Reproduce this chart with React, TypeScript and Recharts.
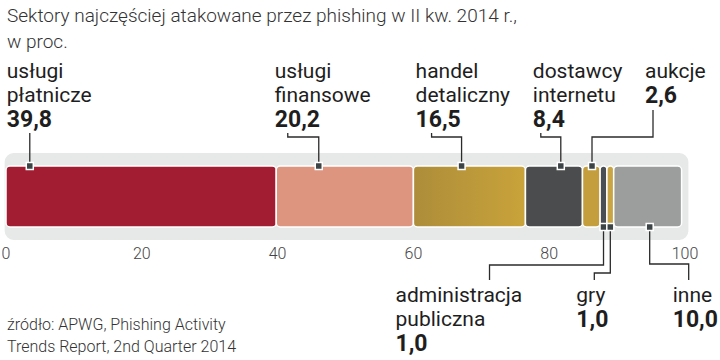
import React from "react";
import { BarChart, Bar, XAxis, YAxis, CartesianGrid, ReferenceArea, LabelList } from "recharts";

const title = ["Sektory najczęściej atakowane przez phishing w II kw. 2014 r.,", "w proc."];
const source = ["źródło: APWG, Phishing Activity", "Trends Report, 2nd Quarter 2014"];

const sectors = [
  "usługi\npłatnicze",
  "usługi\nfinansowe",
  "handel\ndetaliczny",
  "dostawcy\ninternetu",
  "aukcje",
  "administracja\npubliczna",
  "gry",
  "inne",
];
const shares = [39.8, 20.2, 16.5, 8.4, 2.6, 1.0, 1.0, 10.0];
const ticks = [0, 20, 40, 60, 80, 100];
const gridValues = [20, 40, 60, 80];

const colors = ["#A21D31", "#DE957F", "url(#goldGrad)", "#4A4C4D", "#C49E3C", "#4A4F55", "#C9A545", "#9C9D9D"];

// where each annotation sits, relative to its marker
const callouts = [
  { side: "top", frac: 0.088, textDx: -23, elbowDx: 0, endY: 133 },
  { side: "top", frac: 0.31, textDx: -44, elbowDx: -31, endY: 133 },
  { side: "top", frac: 0.43, textDx: -46, elbowDx: -30, endY: 133 },
  { side: "top", frac: 0.62, textDx: -28, elbowDx: -20, endY: 133 },
  { side: "top", frac: 0.54, textDx: 53, elbowDx: 61, endY: 110 },
  { side: "bottom", frac: 0.5, textDx: -208, elbowDx: -114, endY: 280, elbowY: 265 },
  { side: "bottom", frac: 0.5, textDx: -34, elbowDx: -16, endY: 280, elbowY: 273 },
  { side: "bottom", frac: 0.53, textDx: 23, elbowDx: 39, endY: 280, elbowY: 264 },
];

const row: Record<string, string | number> = { name: "sektory" };
shares.forEach((v, i) => (row["s" + i] = v));
const data = [row];

const fmt = (v: number) => v.toFixed(1).replace(".", ",");

function Callout(props: any, i: number) {
  const { x, y, width, height } = props;
  const c = callouts[i];
  const lines = sectors[i].split("\n");
  const mx = x + width * c.frac;
  const top = c.side === "top";
  const my = top ? y : y + height;
  const elbowY = top ? 137 : (c.elbowY as number);
  const ex = mx + c.elbowDx;
  const path =
    c.elbowDx === 0
      ? `M${mx},${my} L${mx},${c.endY}`
      : `M${mx},${my} L${mx},${elbowY} L${ex},${elbowY} L${ex},${c.endY}`;
  const tx = mx + c.textDx;
  const firstBase = top ? 78 : 302;
  const step = top ? 24 : 23.5;
  const valBase = firstBase + step * (lines.length - 1) + 25;
  return (
    <g key={"c" + i}>
      <path d={path} stroke="#2b2b2b" strokeWidth={1.3} fill="none" />
      <rect x={mx - 3.5} y={my - 3.5} width={7} height={7} fill="#3d4446" stroke="#fff" strokeWidth={1.5} />
      <text x={tx} y={firstBase} fontFamily="Roboto, sans-serif" fontSize={21} fill="#1e1e1e">
        {lines.map((l, k) => (
          <tspan key={k} x={tx} y={firstBase + step * k}>
            {l}
          </tspan>
        ))}
      </text>
      <text x={tx} y={valBase} fontFamily="Roboto, sans-serif" fontSize={23} fontWeight={700} fill="#1e1e1e">
        {fmt(shares[i])}
      </text>
    </g>
  );
}

export default function App() {
  return (
    <div style={{ position: "absolute", left: 0, top: 0, width: 720, height: 360, background: "#fff" }}>
      <svg width={720} height={60} style={{ position: "absolute", left: 0, top: 0 }}>
        <text x={7} y={22} fontFamily="Roboto, sans-serif" fontWeight={300} fontSize={19} fill="#333">
          {title[0]}
        </text>
        <text x={7} y={48} fontFamily="Roboto, sans-serif" fontWeight={300} fontSize={19} fill="#333">
          {title[1]}
        </text>
      </svg>
      <div style={{ position: "absolute", left: 0, top: 0 }}>
        <BarChart
          width={720}
          height={360}
          data={data}
          layout="vertical"
          margin={{ top: 153, right: 35, left: 6, bottom: 90 }}
          barSize={61}
          style={{ overflow: "visible" }}
        >
          <defs>
            <linearGradient id="goldGrad" x1="0" y1="0" x2="1" y2="0">
              <stop offset="0%" stopColor="#AD8D3A" />
              <stop offset="100%" stopColor="#C9A33A" />
            </linearGradient>
          </defs>
          <ReferenceArea
            x1={-0.2}
            x2={100.5}
            ifOverflow="visible"
            fill="#e7e8e8"
            fillOpacity={1}
            stroke="none"
            radius={9}
          />
          <CartesianGrid horizontal={false} vertical verticalValues={gridValues} stroke="#c9caca" strokeWidth={1} />
          <XAxis
            type="number"
            domain={[0, 100]}
            ticks={ticks}
            interval={0}
            axisLine={false}
            tickLine={false}
            tick={{ fontSize: 16, fill: "#444", fontFamily: "Roboto, sans-serif", fontWeight: 300 }}
          />
          <YAxis type="category" dataKey="name" hide />
          {shares.map((_, i) => (
            <Bar
              key={i}
              dataKey={"s" + i}
              stackId="a"
              fill={colors[i]}
              stroke="#fff"
              strokeWidth={1.5}
              radius={4}
              isAnimationActive={false}
            >
              <LabelList dataKey={"s" + i} content={(p: any) => Callout(p, i)} />
            </Bar>
          ))}
        </BarChart>
      </div>
      <svg width={720} height={60} style={{ position: "absolute", left: 0, top: 300 }}>
        <text x={7} y={30} fontFamily="Roboto, sans-serif" fontWeight={300} fontSize={16} fill="#333">
          {source[0]}
        </text>
        <text x={7} y={52} fontFamily="Roboto, sans-serif" fontWeight={300} fontSize={16} fill="#333">
          {source[1]}
        </text>
      </svg>
    </div>
  );
}
